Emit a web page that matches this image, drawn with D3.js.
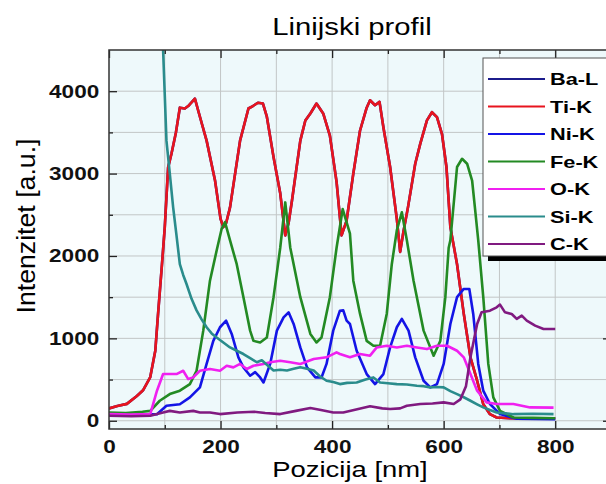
<!DOCTYPE html>
<html>
<head>
<meta charset="utf-8">
<script src="https://cdn.jsdelivr.net/npm/d3@7"></script>
<style>
  body { margin: 0; background: #fff; }
  svg { display: block; font-family: "Liberation Sans", Arial, sans-serif; }
  .tick text { font-weight: bold; font-size: 18px; fill: #111; }
  .tick line { stroke: #222; stroke-width: 1.3; }
</style>
</head>
<body>
<div id="chart"></div>
<script>
// values, [position nm, intensity]
var names = ["Ba-L", "Ti-K", "Ni-K", "Fe-K", "O-K", "Si-K", "C-K"];
var colors = ["#1c1c8c", "#e8141e", "#1414e6", "#238a23", "#f020f0", "#2a8c8c", "#801a80"];

// Ba-L overlaps Ti-K and sits right under the red trace
var baL = [[0,150],[15,180],[32,205],[50,300],[61,370],[74,530],[83,850],[88,1300],[95,1900],[100,2350],
  [106,3075],[112,3240],[120,3500],[127,3800],[136,3790],[142,3820],[154,3910],[163,3690],[175,3400],[190,2920],
  [200,2450],[205,2350],[210,2400],[217,2590],[235,3400],[250,3790],[258,3820],[267,3860],[276,3850],[283,3690],
  [295,3200],[307,2760],[316,2250],[322,2400],[328,2670],[343,3400],[352,3645],[361,3730],[372,3850],[384,3730],
  [396,3460],[408,2900],[417,2250],[426,2430],[438,3000],[450,3520],[462,3800],[468,3890],[477,3830],[485,3870],
  [492,3560],[504,3080],[516,2450],[522,2050],[528,2300],[536,2590],[549,3120],[558,3360],[570,3645],[579,3745],
  [588,3685],[597,3480],[605,3080],[612,2350],[624,1900],[636,1300],[648,770],[660,486],[671,200],[683,80],
  [695,40],[720,30],[760,25],[800,30]];
var tiK = [[0,150],[15,180],[32,205],[50,300],[61,370],[74,530],[83,850],[88,1300],[95,1900],[100,2350],
  [106,3075],[112,3240],[120,3500],[127,3800],[136,3790],[142,3820],[154,3910],[163,3690],[175,3400],[190,2920],
  [200,2450],[205,2350],[210,2400],[217,2590],[235,3400],[250,3790],[258,3820],[267,3860],[276,3850],[283,3690],
  [295,3200],[307,2760],[316,2250],[322,2400],[328,2670],[343,3400],[352,3645],[361,3730],[372,3850],[384,3730],
  [396,3460],[408,2900],[417,2250],[426,2430],[438,3000],[450,3520],[462,3800],[468,3890],[477,3830],[485,3870],
  [492,3560],[504,3080],[516,2450],[522,2050],[528,2300],[536,2590],[549,3120],[558,3360],[570,3645],[579,3745],
  [588,3685],[597,3480],[605,3080],[612,2350],[624,1900],[636,1300],[648,770],[660,486],[671,200],[683,80],
  [695,40],[720,30],[760,25],[800,30]];
var niK = [[0,70],[40,70],[86,80],[103,182],[127,200],[145,284],[163,405],[175,690],[187,970],[199,1135],
  [210,1215],[220,1054],[232,770],[241,648],[253,547],[262,590],[271,526],[277,465],[289,690],[301,1094],
  [313,1255],[322,1316],[331,1175],[343,890],[355,648],[370,526],[381,526],[390,690],[402,1094],[414,1336],
  [420,1340],[426,1215],[432,1175],[444,850],[462,567],[477,445],[492,567],[504,890],[516,1135],[525,1236],
  [537,1094],[549,770],[564,486],[576,405],[588,445],[600,690],[612,1175],[624,1500],[636,1600],[646,1600],
  [653,1296],[662,690],[671,365],[683,203],[701,81],[731,25],[800,20]];
var feK = [[0,100],[30,95],[60,110],[74,120],[91,243],[109,324],[127,365],[145,445],[157,607],[169,1094],
  [181,1700],[193,2066],[202,2330],[208,2410],[217,2190],[229,1900],[241,1500],[253,1094],[259,970],[271,950],
  [283,1010],[295,1500],[307,2100],[316,2650],[325,2100],[343,1500],[361,1054],[372,950],[381,1010],[396,1500],
  [408,2100],[419,2570],[432,2270],[438,1700],[450,1300],[462,970],[474,910],[486,910],[498,1300],[507,1900],
  [516,2310],[525,2530],[534,2190],[546,1700],[564,1094],[582,790],[594,970],[603,1500],[609,2100],[612,2190],
  [624,3080],[633,3180],[642,3120],[651,2916],[656,2590],[662,2190],[671,1500],[680,690],[689,284],[701,120],
  [725,40],[760,35],[800,30]];
var oK = [[0,80],[40,75],[74,80],[86,365],[97,567],[121,567],[133,607],[142,506],[151,526],[163,607],
  [181,628],[199,607],[211,668],[223,648],[235,690],[247,628],[259,668],[277,690],[289,710],[307,729],
  [325,710],[343,690],[355,720],[367,750],[390,770],[408,830],[414,810],[432,770],[450,810],[468,790],
  [480,890],[498,910],[516,890],[534,910],[552,890],[570,870],[588,910],[606,910],[624,850],[636,770],
  [648,567],[660,365],[677,223],[695,203],[725,203],[755,162],[797,160]];
var siK = [[0,12000],[60,9000],[85,6500],[92,5400],[97,4500],[103,3400],[109,3000],[115,2590],[121,2250],[127,1900],
  [133,1770],[139,1660],[148,1480],[157,1340],[166,1230],[175,1135],[184,1060],[193,1010],[205,950],[217,890],
  [229,850],[241,810],[253,760],[265,710],[274,735],[283,680],[295,610],[307,620],[319,610],[331,630],
  [343,650],[355,630],[367,610],[378,540],[390,486],[402,470],[414,445],[427,460],[444,465],[460,500],
  [474,526],[486,465],[500,455],[516,445],[534,440],[552,425],[564,420],[576,405],[588,410],[600,405],
  [612,360],[624,324],[636,285],[648,243],[660,200],[671,162],[683,130],[695,101],[710,90],[725,80],
  [760,85],[797,80]];
var cK = [[0,60],[40,55],[74,60],[97,101],[109,120],[127,101],[151,120],[163,101],[181,101],[199,81],
  [230,100],[260,110],[280,95],[307,81],[335,120],[361,154],[380,130],[402,101],[420,101],[445,140],
  [468,175],[490,150],[504,142],[522,150],[534,182],[558,203],[580,210],[600,223],[618,203],[630,260],
  [640,420],[648,770],[660,1175],[668,1316],[683,1336],[695,1377],[701,1410],[710,1316],[722,1296],[731,1236],
  [740,1276],[749,1215],[764,1155],[779,1114],[800,1114]];
var series = [baL, tiK, niK, feK, oK, siK, cK];

var xMajor = [0, 200, 400, 600, 800];
var xMinor = [100, 300, 500, 700];
var yMajor = [0, 1000, 2000, 3000, 4000];
var yMinor = [500, 1500, 2500, 3500];

(function () {
  var W = 606, H = 484;
  var pl = 109, pr = 611, pt = 50, pb = 429;
  var sx = 1.22; // the picture's lettering is drawn a bit wide

  var svg = d3.select("#chart").append("svg")
    .attr("width", W)
    .attr("height", H);

  var x = d3.scaleLinear().domain([0, 900]).range([pl, pr]);
  var y = d3.scaleLinear().domain([-100, 4500]).range([pb, pt]);

  svg.append("rect")
    .attr("x", pl).attr("y", pt)
    .attr("width", pr - pl).attr("height", pb - pt)
    .style("fill", "#eef9fb");

  // grid every minor step
  var grid = svg.append("g").style("stroke", "#c2c6c6").style("stroke-width", 1);
  grid.selectAll(".gx").data(xMajor.concat(xMinor).filter(function(d) { return d > 0; }))
    .enter().append("line")
    .attr("x1", function(d) { return x(d); }).attr("x2", function(d) { return x(d); })
    .attr("y1", pt).attr("y2", pb);
  grid.selectAll(".gy").data(yMajor.concat(yMinor))
    .enter().append("line")
    .attr("x1", pl).attr("x2", pr)
    .attr("y1", function(d) { return y(d); }).attr("y2", function(d) { return y(d); });

  svg.append("clipPath").attr("id", "clip")
    .append("rect")
    .attr("x", pl).attr("y", pt)
    .attr("width", pr - pl).attr("height", pb - pt);

  var line = d3.line()
    .x(function(d) { return x(d[0]); })
    .y(function(d) { return y(d[1]); });

  svg.append("g").attr("clip-path", "url(#clip)")
    .selectAll("path")
    .data(series)
    .enter().append("path")
    .attr("d", line)
    .style("fill", "none")
    .style("stroke", function(d, i) { return colors[i]; })
    .style("stroke-width", 2.6)
    .style("stroke-linejoin", "round");

  // axes, ticks pointing inward
  function addAxis(axis, tx, ty, labels) {
    var g = svg.append("g").attr("transform", "translate(" + tx + "," + ty + ")").call(axis);
    g.select(".domain").remove();
    if (!labels) g.selectAll("text").remove();
    return g;
  }
  var ya = addAxis(d3.axisLeft(y).tickValues(yMajor).tickSize(-8).tickFormat(d3.format("d")), pl, 0, true);
  ya.selectAll("text").attr("x", -8).attr("transform", "scale(" + sx + ",1)").style("font-size", "18.5px");
  addAxis(d3.axisLeft(y).tickValues(yMinor).tickSize(-4), pl, 0, false);
  addAxis(d3.axisRight(y).tickValues(yMajor).tickSize(-8), pr, 0, false);
  addAxis(d3.axisRight(y).tickValues(yMinor).tickSize(-4), pr, 0, false);
  var xa = addAxis(d3.axisBottom(x).tickValues(xMajor).tickSize(-8).tickPadding(11), 0, pb, true);
  xa.selectAll("text").attr("transform", "scale(" + sx + ",1)").style("font-size", "18.5px");
  addAxis(d3.axisBottom(x).tickValues(xMinor).tickSize(-4), 0, pb, false);
  addAxis(d3.axisTop(x).tickValues(xMajor).tickSize(-8), 0, pt, false);
  addAxis(d3.axisTop(x).tickValues(xMinor).tickSize(-4), 0, pt, false);

  svg.append("rect")
    .attr("x", pl).attr("y", pt)
    .attr("width", pr - pl).attr("height", pb - pt)
    .style("fill", "none").style("stroke", "#333").style("stroke-width", 1.5);

  svg.append("text")
    .attr("transform", "translate(352,35) scale(" + sx + ",1)")
    .attr("text-anchor", "middle")
    .style("font-size", "24px")
    .text("Linijski profil");

  svg.append("text")
    .attr("transform", "translate(350,477) scale(" + sx + ",1)")
    .attr("text-anchor", "middle")
    .style("font-size", "22.5px")
    .text("Pozicija [nm]");

  svg.append("text")
    .attr("transform", "translate(35,226) rotate(-90)")
    .attr("text-anchor", "middle")
    .attr("textLength", 175).attr("lengthAdjust", "spacingAndGlyphs")
    .style("font-size", "25px")
    .text("Intenzitet [a.u.]");

  // legend with black drop shadow
  var lg = svg.append("g").attr("transform", "translate(483,58)");
  lg.append("rect").attr("x", 5).attr("y", 5).attr("width", 140).attr("height", 198).style("fill", "#000");
  lg.append("rect").attr("x", 0).attr("y", 0).attr("width", 140).attr("height", 198)
    .style("fill", "#fff").style("stroke", "#555").style("stroke-width", 1);
  var item = lg.selectAll(".item").data(names)
    .enter().append("g")
    .attr("transform", function(d, i) { return "translate(0," + (21 + i * 27.5) + ")"; });
  item.append("line")
    .attr("x1", 5).attr("x2", 62)
    .style("stroke", function(d, i) { return colors[i]; })
    .style("stroke-width", 2.2);
  item.append("text")
    .attr("transform", "translate(67,0) scale(1.28,1)")
    .attr("dy", "0.36em")
    .style("font-size", "17px").style("font-weight", "bold")
    .text(function(d) { return d; });
})();
</script>
</body>
</html>
